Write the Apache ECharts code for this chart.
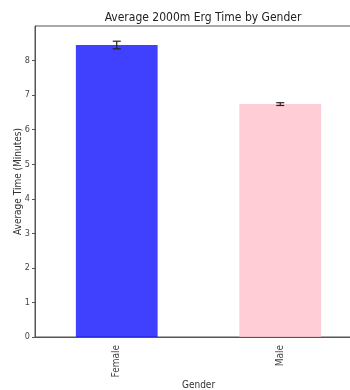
<!DOCTYPE html>
<html>
<head>
<meta charset="utf-8">
<script src="https://cdn.jsdelivr.net/npm/echarts@6/dist/echarts.min.js"></script>
<style>html,body{margin:0;padding:0;background:#fff}#c{width:350px;height:390px}</style>
</head>
<body>
<div id="c"></div>
<script>
var categories = ['Female', 'Male'];
var meanTimes = [8.45, 6.74];
var errors = [0.11, 0.04];
var barColors = ['rgba(0,0,255,0.75)', 'rgba(255,192,203,0.8)'];
var yTicks = [0, 1, 2, 3, 4, 5, 6, 7, 8];

var FONT = "'Liberation Sans Narrow', 'DejaVu Sans Condensed', 'DejaVu Sans', sans-serif";
var chart = echarts.init(document.getElementById('c'), null, {renderer: 'canvas'});
var errData = categories.map(function (c, i) { return [i, meanTimes[i] - errors[i], meanTimes[i] + errors[i]]; });

chart.setOption({
  animation: false,
  backgroundColor: '#fff',
  title: {
    text: 'Average 2000m Erg Time by Gender',
    left: 198, top: 7, textAlign: 'center',
    textStyle: {fontFamily: FONT, fontSize: 12, fontWeight: 'normal', color: '#222'}
  },
  grid: {left: 35, top: 26, width: 327, height: 311, show: true, borderColor: '#555', borderWidth: 1, backgroundColor: 'transparent', outerBoundsMode: 'none', containLabel: false},
  xAxis: {
    type: 'category',
    data: categories,
    name: 'Gender',
    nameLocation: 'middle',
    nameGap: 43,
    nameMoveOverlap: false,
    nameTextStyle: {fontFamily: FONT, fontSize: 10, color: '#333', verticalAlign: 'top'},
    axisLine: {lineStyle: {color: '#555'}},
    axisTick: {alignWithLabel: true, length: 3, lineStyle: {color: '#555'}},
    axisLabel: {rotate: 90, margin: 8, fontFamily: FONT, fontSize: 10, color: '#444'}
  },
  yAxis: {
    type: 'value',
    min: 0, max: 9, interval: 1,
    name: 'Average Time (Minutes)',
    nameLocation: 'middle',
    nameGap: 12,
    nameMoveOverlap: false,
    nameTextStyle: {fontFamily: FONT, fontSize: 10, color: '#333'},
    splitLine: {show: false},
    axisLine: {show: true, lineStyle: {color: '#555'}},
    axisTick: {show: true, length: 3, lineStyle: {color: '#555'}},
    axisLabel: {
      margin: 5, fontFamily: FONT, fontSize: 9, color: '#444', showMaxLabel: false,
      formatter: function (v) { return yTicks.indexOf(v) >= 0 ? String(v) : ''; }
    }
  },
  series: [
    {
      type: 'bar',
      barWidth: '50%',
      data: meanTimes.map(function (v, i) { return {value: v, itemStyle: {color: barColors[i]}}; })
    },
    {
      type: 'custom',
      data: errData,
      z: 10,
      renderItem: function (params, api) {
        var x = api.value(0);
        var lo = api.coord([x, api.value(1)]);
        var hi = api.coord([x, api.value(2)]);
        var hw = 4;
        var st = {stroke: '#222', lineWidth: 1.2};
        return {
          type: 'group',
          children: [
            {type: 'line', shape: {x1: lo[0], y1: lo[1], x2: hi[0], y2: hi[1]}, style: st},
            {type: 'line', shape: {x1: lo[0] - hw, y1: lo[1], x2: lo[0] + hw, y2: lo[1]}, style: st},
            {type: 'line', shape: {x1: hi[0] - hw, y1: hi[1], x2: hi[0] + hw, y2: hi[1]}, style: st}
          ]
        };
      }
    }
  ]
});
</script>
</body>
</html>
